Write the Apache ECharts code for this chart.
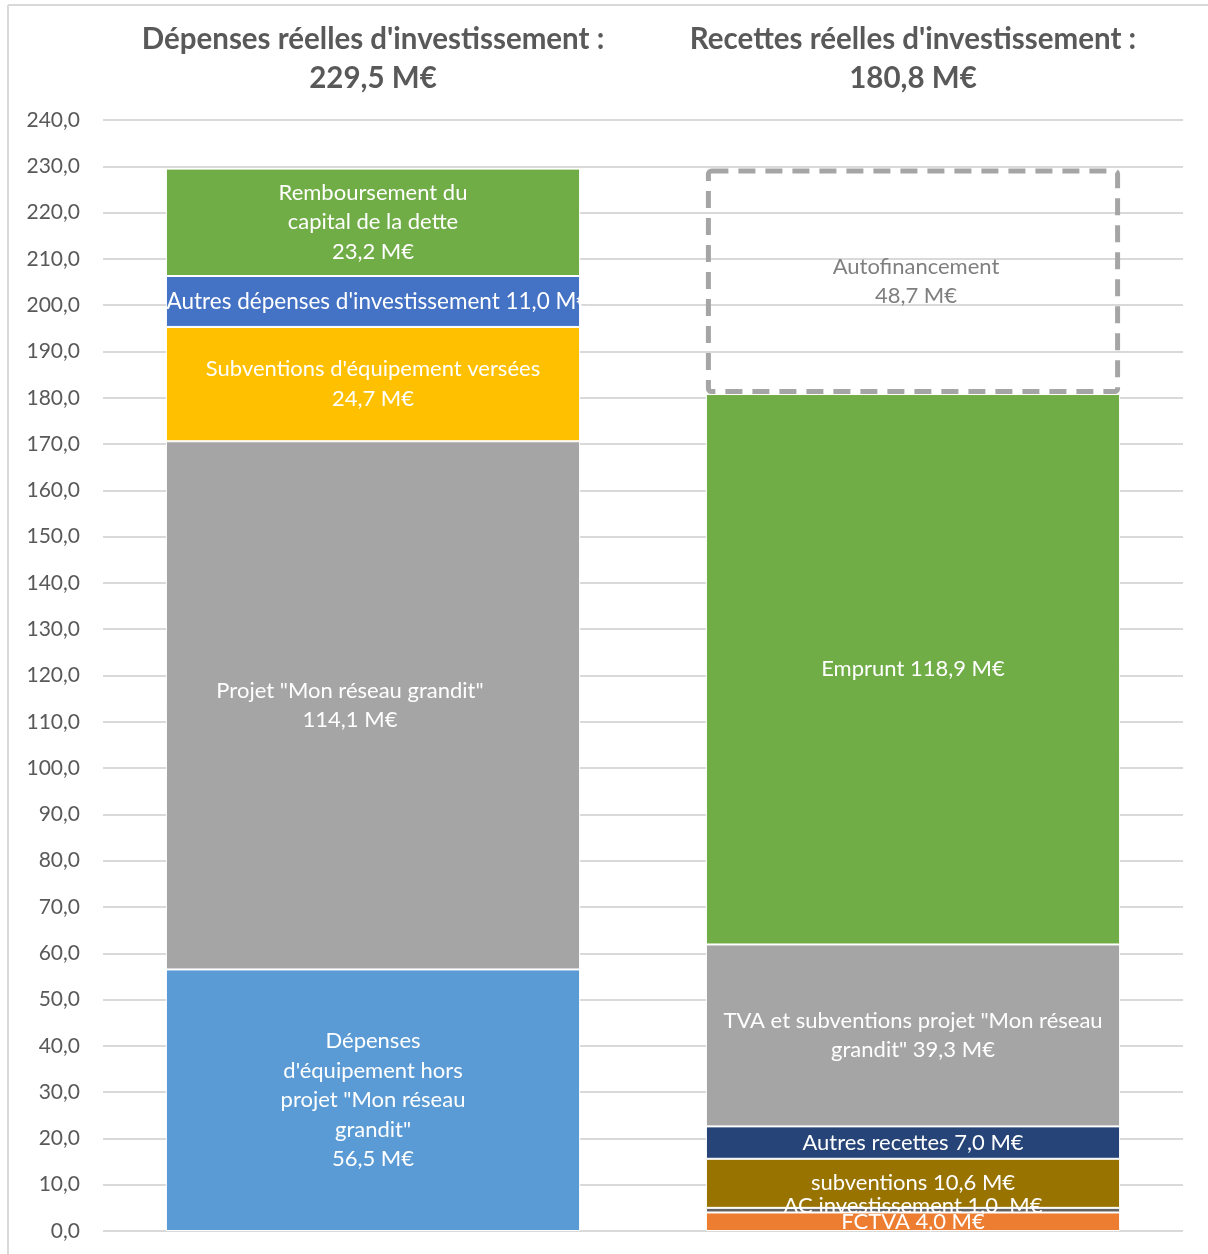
<!DOCTYPE html>
<html>
<head>
<meta charset="utf-8">
<script src="https://cdn.jsdelivr.net/npm/echarts@6/dist/echarts.min.js"></script>
<style>
html, body { margin: 0; padding: 0; background: #fff; }
#chart { width: 1208px; height: 1254px; }
</style>
</head>
<body>
<div id="chart"></div>
<script>
var categories = ["Dépenses réelles d'investissement :\n229,5 M€", "Recettes réelles d'investissement :\n180,8 M€"];

// Dépenses (bas -> haut)
var depLabels = [
	"Dépenses\nd'équipement hors\nprojet \"Mon réseau\ngrandit\"\n56,5 M€",
	"Projet \"Mon réseau grandit\"\n114,1 M€",
	"Subventions d'équipement versées\n24,7 M€",
	"Autres dépenses d'investissement 11,0 M€",
	"Remboursement du\ncapital de la dette\n23,2 M€"
];
var depValues = [56.5, 114.1, 24.7, 11.0, 23.2];
var depColors = ['#5B9BD5', '#A5A5A5', '#FFC000', '#4472C4', '#70AD47'];

// Recettes (bas -> haut)
var recLabels = [
	"FCTVA 4,0 M€",
	"AC investissement 1,0  M€",
	"subventions 10,6 M€",
	"Autres recettes 7,0 M€",
	"TVA et subventions projet \"Mon réseau\ngrandit\" 39,3 M€",
	"Emprunt 118,9 M€",
	"Autofinancement\n48,7 M€"
];
var recValues = [4.0, 1.0, 10.6, 7.0, 39.3, 118.9, 48.7];
var recColors = ['#ED7D31', '#636363', '#997300', '#264478', '#A5A5A5', '#70AD47', '#FFFFFF'];

var FONT = 'Lato, "Open Sans", sans-serif';

var series = [];
depValues.forEach(function (v, i) {
	series.push({
		type: 'bar',
		stack: 'total',
		barWidth: '76.7%',
		data: [v, '-'],
		itemStyle: { color: depColors[i], borderColor: '#fff', borderWidth: 1 },
		label: {
			show: true,
			position: 'inside',
			formatter: depLabels[i],
			color: '#fff',
			fontFamily: FONT,
			fontSize: i === 3 ? 22.5 : 22,
			lineHeight: 29.5,
			offset: i === 1 ? [-23, 0] : (i === 3 ? [5, 0] : [0, 0])
		}
	});
});
recValues.forEach(function (v, i) {
	var auto = i === recValues.length - 1;
	series.push({
		type: 'bar',
		stack: 'total',
		barWidth: '76.7%',
		data: ['-', v],
		z: auto ? 3 : 2,
		itemStyle: auto
			? { color: 'rgba(255,255,255,0)', borderColor: '#A5A5A5', borderWidth: 5, borderType: [17, 10], borderRadius: 3 }
			: { color: recColors[i], borderColor: '#fff', borderWidth: 1 },
		label: {
			show: true,
			position: 'inside',
			formatter: recLabels[i],
			color: auto ? '#7F7F7F' : '#fff',
			fontFamily: FONT,
			fontSize: 22,
			lineHeight: 29.5,
			offset: i === 1 ? [0, -4] : (auto ? [3, 0] : [0, 0])
		}
	});
});

var myChart = echarts.init(document.getElementById('chart'));
var option = {
	backgroundColor: '#fff',
	animation: false,
	grid: { left: 103, right: 25, top: 120, bottom: 23, containLabel: false },
	xAxis: {
		type: 'category',
		position: 'top',
		data: categories,
		axisLine: { show: false },
		axisTick: { show: false },
		axisLabel: {
			interval: 0,
			margin: 22,
			color: '#595959',
			fontFamily: FONT,
			fontWeight: 'bold',
			fontSize: 29.5,
			lineHeight: 39
		}
	},
	yAxis: {
		type: 'value',
		min: 0,
		max: 240,
		interval: 10,
		axisLine: { show: false },
		axisTick: { show: false },
		axisLabel: {
			margin: 23,
			color: '#595959',
			fontFamily: FONT,
			fontSize: 21,
			formatter: function (v) { return v.toFixed(1).replace('.', ','); }
		},
		splitLine: { lineStyle: { color: '#D9D9D9', width: 2 } }
	},
	graphic: [
		{ type: 'line', shape: { x1: 8, y1: 5, x2: 1208, y2: 5 }, style: { stroke: '#D9D9D9', lineWidth: 2 } },
		{ type: 'line', shape: { x1: 8, y1: 5, x2: 8, y2: 1254 }, style: { stroke: '#D9D9D9', lineWidth: 2 } }
	],
	series: series
};
myChart.setOption(option);
</script>
</body>
</html>
